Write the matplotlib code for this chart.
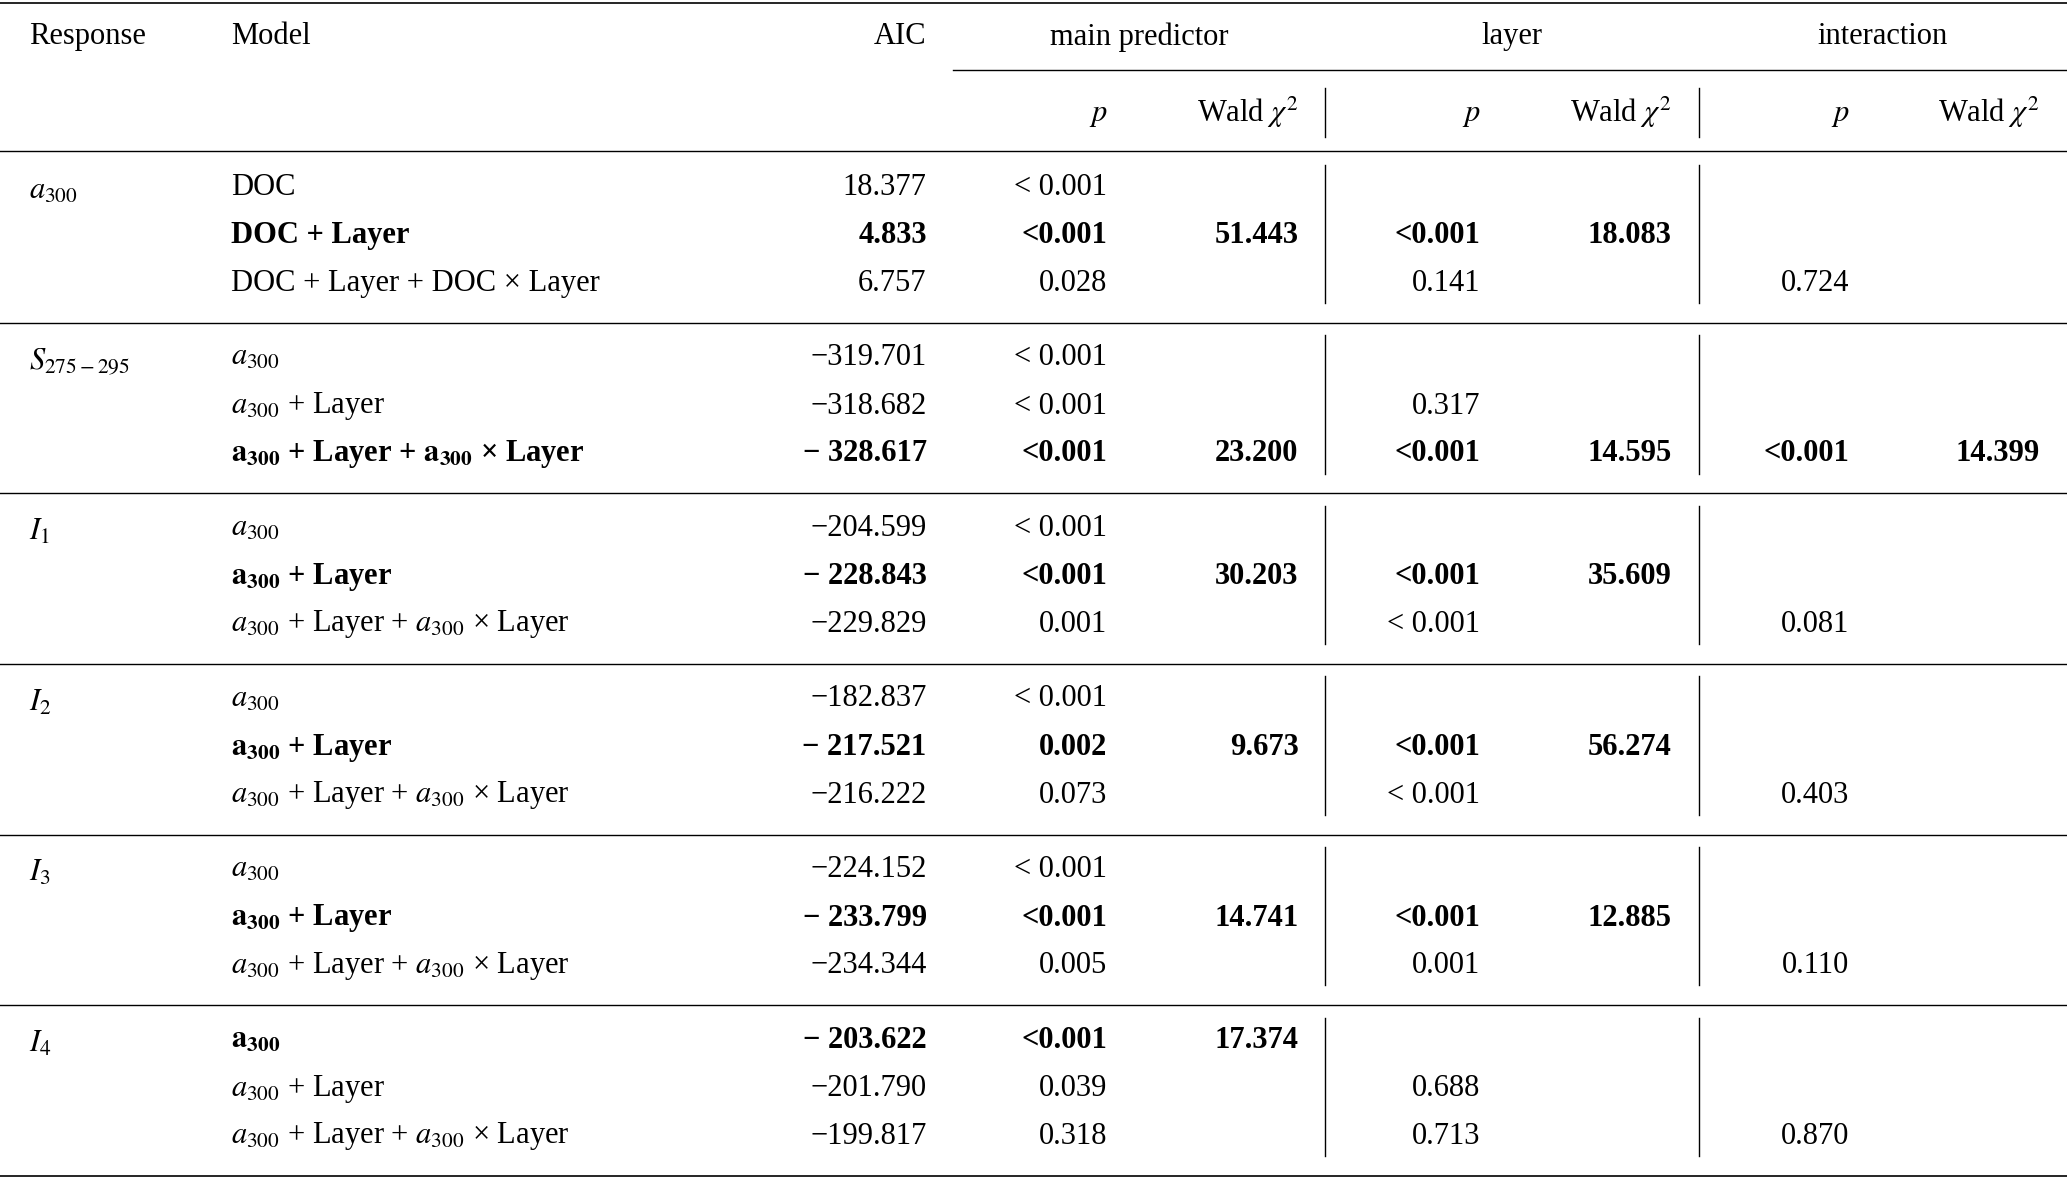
import matplotlib as mpl
mpl.use('agg')
import matplotlib.pyplot as plt

plt.rcParams['font.family'] = ['Liberation Serif', 'DejaVu Serif']
plt.rcParams['mathtext.fontset'] = 'stix'

responses = [r'$a_{300}$', r'$S_{275-295}$', r'$I_1$', r'$I_2$', r'$I_3$', r'$I_4$']
A = r'$a_{300}$'
AB = r'$\mathbf{a}_{\mathbf{300}}$'
models = [
    ['DOC', 'DOC + Layer', 'DOC + Layer + DOC × Layer'],
    [A, A + ' + Layer', AB + ' + Layer + ' + AB + ' × Layer'],
    [A, AB + ' + Layer', A + ' + Layer + ' + A + ' × Layer'],
    [A, AB + ' + Layer', A + ' + Layer + ' + A + ' × Layer'],
    [A, AB + ' + Layer', A + ' + Layer + ' + A + ' × Layer'],
    [AB, A + ' + Layer', A + ' + Layer + ' + A + ' × Layer'],
]
bold_row = [1, 2, 1, 1, 1, 0]
aic = [['18.377', '4.833', '6.757'],
       ['−319.701', '−318.682', '− 328.617'],
       ['−204.599', '− 228.843', '−229.829'],
       ['−182.837', '− 217.521', '−216.222'],
       ['−224.152', '− 233.799', '−234.344'],
       ['− 203.622', '−201.790', '−199.817']]
p_main = [['< 0.001', '<0.001', '0.028'],
          ['< 0.001', '< 0.001', '<0.001'],
          ['< 0.001', '<0.001', '0.001'],
          ['< 0.001', '0.002', '0.073'],
          ['< 0.001', '<0.001', '0.005'],
          ['<0.001', '0.039', '0.318']]
wald_main = ['51.443', '23.200', '30.203', '9.673', '14.741', '17.374']
p_layer = [['', '<0.001', '0.141'],
           ['', '0.317', '<0.001'],
           ['', '<0.001', '< 0.001'],
           ['', '<0.001', '< 0.001'],
           ['', '<0.001', '0.001'],
           ['', '0.688', '0.713']]
wald_layer = ['18.083', '14.595', '35.609', '56.274', '12.885', '']
p_int = ['0.724', '<0.001', '0.081', '0.403', '0.110', '0.870']
wald_int = ['', '14.399', '', '', '', '']

fig = plt.figure(figsize=(20.67, 11.79), dpi=100)
ax = fig.add_axes([0, 0, 1, 1])
ax.set_xlim(0, 1568)
ax.set_ylim(895, 0)
ax.axis('off')
fs = 22

def t(x, y, s, ha='left', bold=False):
    ax.text(x, y, s, ha=ha, va='center', fontsize=fs,
            fontweight='bold' if bold else 'normal')

# header
t(22, 28, 'Response'); t(175, 28, 'Model'); t(703, 28, 'AIC', 'right')
t(864, 28, 'main predictor', 'center'); t(1147, 28, 'layer', 'center')
t(1428, 28, 'interaction', 'center')
for xp, xw in [(840, 985), (1123, 1268), (1403, 1547)]:
    t(xp, 87, r'$p$', 'right'); t(xw, 85, r'Wald $\chi^2$', 'right')
ax.plot([0, 1568], [2, 2], color='k', lw=1.2)
ax.plot([723, 1568], [53, 53], color='k', lw=1)
ax.plot([0, 1568], [115, 115], color='k', lw=1)
for xv in (1005, 1289):
    ax.plot([xv, xv], [67, 104], color='k', lw=1)

xcols = [703, 840, 985, 1123, 1268, 1403, 1547]
for g in range(6):
    y0 = 142 + g * 129.5
    ys = [y0, y0 + 37, y0 + 73]
    t(22, y0 + 3, responses[g])
    for r in range(3):
        b = r == bold_row[g]
        t(175, ys[r], models[g][r], bold=b)
        vals = [aic[g][r], p_main[g][r], wald_main[g] if b else '',
                p_layer[g][r], wald_layer[g] if b else '',
                p_int[g] if r == 2 else '', wald_int[g] if (b and r == 2) else '']
        for x, v in zip(xcols, vals):
            if v:
                t(x, ys[r], v, 'right', bold=b)
    for xv in (1005, 1289):
        ax.plot([xv, xv], [y0 - 17, y0 + 88], color='k', lw=1)
    ax.plot([0, 1568], [y0 + 103, y0 + 103], color='k', lw=1 if g < 5 else 1.2)

fig.savefig('out.png', dpi=100)
